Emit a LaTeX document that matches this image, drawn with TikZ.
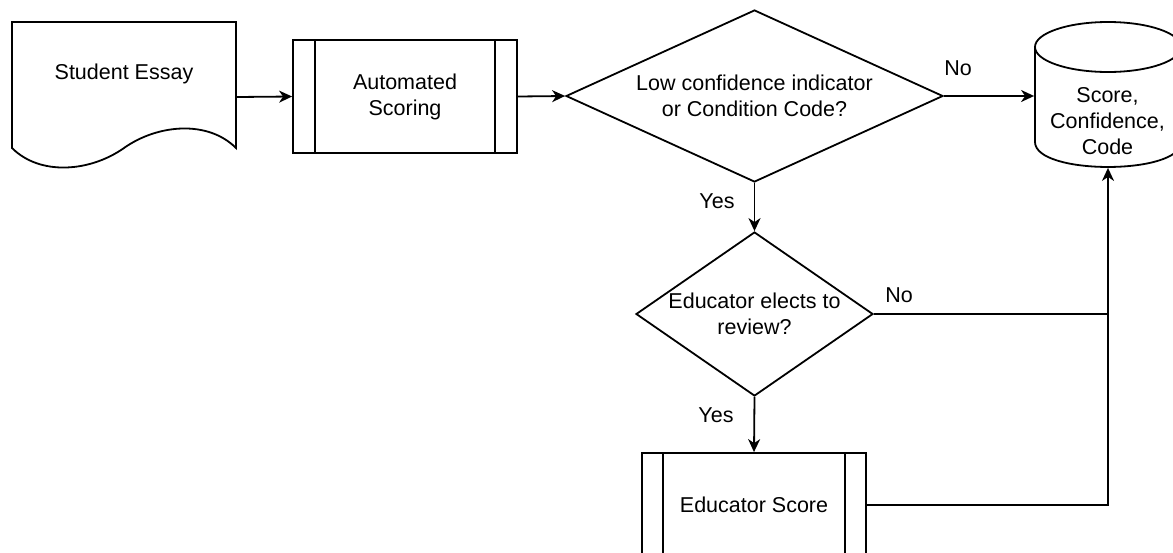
\documentclass[tikz,border=0pt]{standalone}
\usepackage{fontspec}
\setmainfont{Liberation Sans}
\usetikzlibrary{shapes.geometric,arrows.meta}
\begin{document}
\begin{tikzpicture}[x=1pt,y=-1pt,
  line width=1.8pt,
  txt/.style={font=\fontsize{21.5}{26}\selectfont, align=center, inner sep=0pt},
  box/.style={draw, rectangle, minimum width=224pt, inner sep=0pt},
  dia/.style={draw, diamond, inner sep=0pt},
  arr/.style={-{Stealth[length=13pt,width=12pt,inset=4pt]}},
  ]
\clip (0,0) rectangle (1173,552);
% Student Essay (document shape)
\node[minimum width=224pt, minimum height=150pt, inner sep=0pt] (essay) at (124,97) {};
\draw (12,148) -- (12,22) -- (236,22) -- (236,148)
  .. controls (208,120) and (158,124) .. (124,148)
  .. controls (90,172) and (40,176) .. (12,148) -- cycle;
\node[txt] (essaytext) at (124,74) {Student Essay};
% Automated Scoring
\node[box, txt, minimum height=113pt] (scoring) at (405,96.5) {Automated\\Scoring};
\draw ([xshift=23pt]scoring.north west) -- ([xshift=23pt]scoring.south west);
\draw ([xshift=-23pt]scoring.north east) -- ([xshift=-23pt]scoring.south east);
% Decision 1
\node[dia, minimum width=377pt, minimum height=172pt] (dec1) at (754.5,96) {};
\node[txt] (dec1text) at (dec1) {Low confidence indicator\\or Condition Code?};
% Decision 2
\node[dia, minimum width=237pt, minimum height=164pt] (dec2) at (754.5,314) {};
\node[txt] (dec2text) at (dec2) {Educator elects to\\review?};
% Database
\node[minimum width=146pt, minimum height=145pt, inner sep=0pt] (db) at (1108,94.5) {};
\draw (1108,47) ellipse [x radius=73pt, y radius=25pt];
\draw (1035,47) -- (1035,142) .. controls (1035,175.3) and (1181,175.3) .. (1181,142) -- (1181,47);
\node[txt] (dbtext) at (1107.5,121) {Score,\\Confidence,\\Code};
% Educator Score
\node[box, txt, minimum height=104pt] (edu) at (754,505) {Educator Score};
\draw ([xshift=22pt]edu.north west) -- ([xshift=22pt]edu.south west);
\draw ([xshift=-22pt]edu.north east) -- ([xshift=-22pt]edu.south east);
% Connectors
\draw[arr] (essay.east) -- (scoring.west);
\draw[arr] (scoring.east) -- (dec1.west);
\draw[arr] (dec1.east) -- (dec1.east -| db.west);
\node[txt] (no1) at (958,68) {No};
\draw[arr] (dec1.south) -- (dec2.north);
\node[txt] (yes1) at (717,201) {Yes};
\coordinate (j1) at (db.south |- dec2.east);
\draw (dec2.east) -- (j1);
\node[txt] (no2) at (899,295) {No};
\draw[arr] (edu.east) -- (edu.east -| db.south) -- (db.south);
\draw[arr] (dec2.south) -- (edu.north);
\node[txt] (yes2) at (716,415) {Yes};
\end{tikzpicture}
\end{document}
